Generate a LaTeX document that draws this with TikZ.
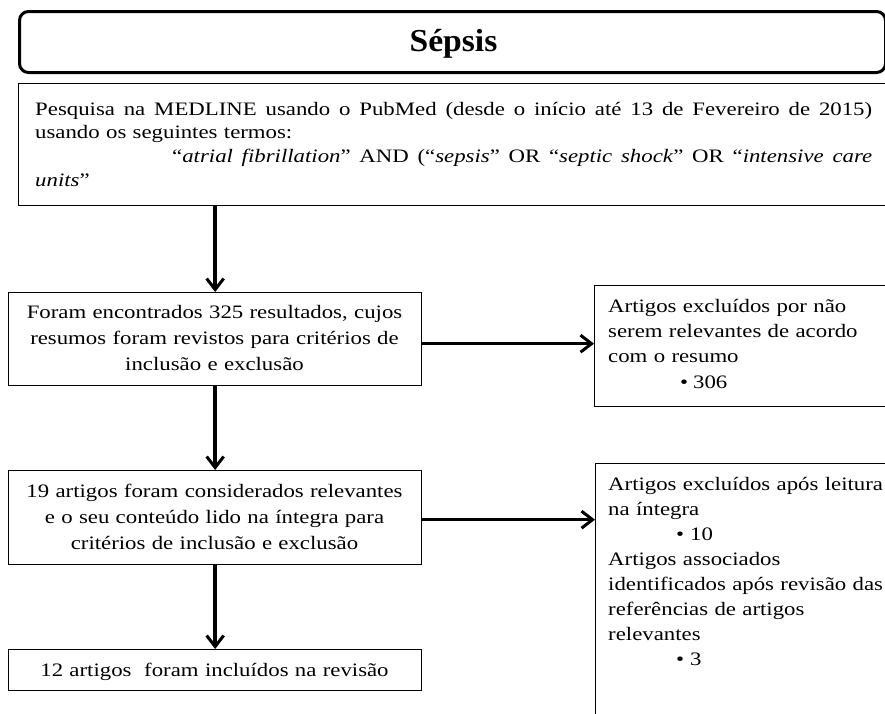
\documentclass[tikz,border=0pt]{standalone}
\usepackage{fontspec}
\setmainfont[FakeStretch=1.2]{Liberation Serif}
\newfontfamily\titlefont[FakeStretch=1.05]{Liberation Serif}
\usetikzlibrary{arrows.meta}
\newcommand{\justline}[2]{\makebox[#1][s]{\spaceskip=0pt\xspaceskip=0pt\relax #2}}
\begin{document}
\begin{tikzpicture}[x=1pt,y=-1pt,
  box/.style={draw=black, line width=1.3pt, rectangle, inner sep=0pt, anchor=north west},
  txt/.style={inner sep=0pt, font=\fontsize{19}{26}\selectfont},
  arr/.style={line width=3.5pt, -{Straight Barb[length=11pt,width=17pt,line width=3pt]}}]
\useasboundingbox (0,0) rectangle (885,713);
\clip (0,0) rectangle (885,713);
\fill[white] (0,0) rectangle (885,713);

% title
\node[box, rounded corners=9pt, line width=3pt, minimum width=866pt, minimum height=61pt] (title) at (18,10) {};
\node[inner sep=0pt, anchor=base, font=\titlefont\bfseries\fontsize{32}{32}\selectfont] (titletext) at (453.5,51) {Sépsis};

% query
\node[box, minimum width=867pt, minimum height=122pt] (query) at (18,83) {};
\node[txt, anchor=base west, text width=837pt, align=left, font=\fontsize{19}{23.7}\selectfont] (qtext) at (35,115)
 {\justline{837pt}{Pesquisa na MEDLINE usando o PubMed (desde o início até 13 de Fevereiro de 2015)}\\
  usando os seguintes termos:\\
  \hspace*{137pt}\justline{700pt}{“\textit{atrial fibrillation}” AND (“\textit{sepsis}” OR “\textit{septic shock}” OR “\textit{intensive care}}\\
  \textit{units}”};

% left column
\node[box, minimum width=413pt, minimum height=93pt] (b2) at (8,292) {};
\node[txt, anchor=base, text width=413pt, align=center] (b2t) at (214.5,318)
 {Foram encontrados 325 resultados, cujos\\ resumos foram revistos para critérios de\\ inclusão e exclusão};

\node[box, minimum width=413pt, minimum height=94pt] (b3) at (8,470) {};
\node[txt, anchor=base, text width=413pt, align=center] (b3t) at (214.5,497)
 {19 artigos foram considerados relevantes\\ e o seu conteúdo lido na íntegra para\\ critérios de inclusão e exclusão};

\node[box, minimum width=413pt, minimum height=41pt] (b4) at (8,649) {};
\node[txt, anchor=base, text width=413pt, align=center] (b4t) at (214.5,676.5)
 {12 artigos~ foram incluídos na revisão};

% right column
\node[box, minimum width=292pt, minimum height=121pt] (r1) at (594,285) {};
\node[txt, anchor=base west, text width=290pt, align=left, font=\fontsize{19}{25.4}\selectfont] (r1t) at (608,312)
 {Artigos excluídos por não\\ serem relevantes de acordo\\ com o resumo\\ \hspace*{72pt}•\hspace{5pt}306};

\node[box, minimum width=291pt, minimum height=262pt] (r2) at (595,463) {};
\node[txt, anchor=base west, text width=290pt, align=left, font=\fontsize{19}{25}\selectfont] (r2t) at (608,490)
 {Artigos excluídos após leitura\\ na íntegra\\ \hspace*{68pt}•\hspace{6pt}10\\ Artigos associados\\ identificados após revisão das\\ referências de artigos\\ relevantes\\ \hspace*{68pt}•\hspace{6pt}3};

% connectors
\draw[arr] (b2.north |- query.south) -- (b2.north);
\draw[arr] (b2.south) -- (b3.north);
\draw[arr] (b3.south) -- (b4.north);
\draw[arr] ([yshift=-4.5pt]b2.east) -- ([yshift=-4.5pt]b2.east -| r1.west);
\draw[arr] ([yshift=-2pt]b3.east) -- ([yshift=-2pt]b3.east -| r2.west);
\end{tikzpicture}
\end{document}
